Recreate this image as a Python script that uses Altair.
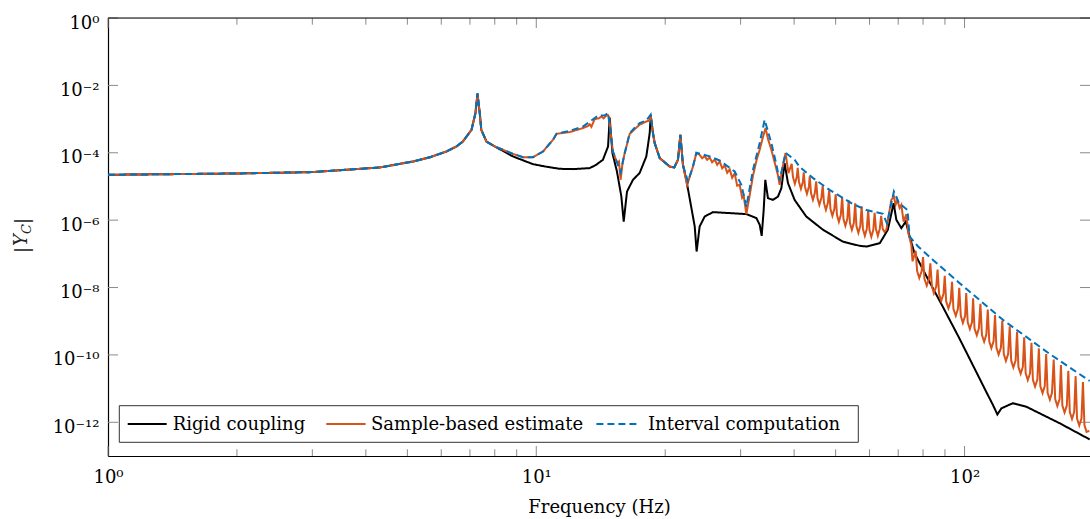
import altair as alt
import pandas as pd

SERIES = ["Rigid coupling", "Sample-based estimate", "Interval computation"]
COLORS = ["#000000", "#D95319", "#0072BD"]

# ---------------- Rigid coupling ----------------
rigid_f = [1.0, 2.0, 3.0, 4.31, 5.15, 5.65, 6.17, 6.51, 6.74, 7.06, 7.21, 7.29, 7.38, 7.44, 7.65, 8.0,
           8.82, 9.82, 10.5, 11.34, 12.18, 13.33, 13.8, 14.31, 14.71, 14.84, 15.06, 15.43, 15.8, 16.0,
           16.29, 16.82, 17.43, 18.07, 18.4, 18.5, 18.73, 18.9, 19.42, 20.49, 21.0, 21.42, 21.7, 22.0,
           22.4, 23.0, 23.44, 23.68, 24.07, 24.73, 25.85, 28.28, 30.94, 32.66, 33.24, 33.6, 33.96, 34.26,
           34.75, 35.69, 36.67, 37.35, 38.0, 38.7, 40.1, 42.7, 46.7, 52.0, 56.9, 59.0, 63.4, 66.2, 68.3,
           69.3, 71.2, 72.9, 74.4, 76.4, 81.4, 89.0, 97.4, 106.5, 112.4, 116.5, 119.3, 121.9, 129.7,
           139.4, 166.7, 196.0]
rigid_y = [2.22e-5, 2.43e-5, 2.67e-5, 3.66e-5, 5.5e-5, 7.4e-5, 1.09e-4, 1.54e-4, 2.16e-4, 4.8e-4, 1.5e-3,
           5.6e-3, 1.5e-3, 4.8e-4, 2.16e-4, 1.54e-4,
           7.8e-5, 4.6e-5, 3.9e-5, 3.34e-5, 3.27e-5, 3.5e-5, 4.4e-5, 6.2e-5, 1.54e-4, 1.1e-3, 9.8e-5,
           2.78e-5, 5.0e-6, 9.1e-7,
           7.1e-6, 1.58e-5, 2.5e-5, 7.8e-5, 3.8e-4, 1.3e-3, 3.8e-4, 1.94e-4, 6.95e-5, 3.9e-5, 3.66e-5,
           6.2e-5, 3.4e-4, 4.4e-5,
           1.58e-5, 2.5e-6, 6.5e-7, 1.17e-7, 6.5e-7, 1.28e-6, 1.73e-6, 1.62e-6, 1.51e-6, 1.15e-6, 7.3e-7,
           3.4e-7, 2.0e-6, 1.58e-5,
           4.5e-6, 4.0e-6, 5.0e-6, 8.9e-6, 4.9e-5, 1.26e-5, 4.0e-6, 1.28e-6, 5.2e-7, 2.3e-7, 1.73e-7,
           1.65e-7, 2.07e-7, 5.2e-7, 3.2e-6,
           1.02e-6, 5.8e-7, 9.1e-7, 3.3e-7, 1.05e-7, 2.22e-8, 2.67e-9, 2.99e-10, 3.13e-11, 7.96e-12,
           3.27e-12, 1.71e-12, 2.6e-12, 3.7e-12,
           2.9e-12, 9.4e-13, 3.1e-13]

# ---------------- Interval computation ----------------
interval_f = [1.0, 2.0, 3.0, 4.31, 5.15, 5.65, 6.17, 6.51, 6.74, 7.06, 7.21, 7.29, 7.38, 7.44, 7.65, 8.0,
              8.82, 9.31, 9.82, 10.37, 10.94, 11.15, 11.97, 12.85, 13.93, 14.44, 14.71, 14.92, 15.1,
              15.35, 15.74, 16.09, 16.52, 16.97, 17.43, 18.07, 18.5, 18.73, 18.9, 19.42, 20.49, 21.0,
              21.42, 21.7, 22.0, 22.6, 23.22, 23.65, 25.4, 26.8, 29.06, 30.12, 30.94, 32.06, 33.24,
              34.14, 35.39, 36.3, 37.0, 38.2, 40.1, 41.2, 44.3, 48.4, 54.9, 59.0, 64.5, 65.9, 68.4,
              70.3, 73.6, 74.4, 77.9, 84.4, 97.4, 122.9, 158.0, 196.0]
interval_y = [2.22e-5, 2.43e-5, 2.67e-5, 3.66e-5, 5.5e-5, 7.4e-5, 1.09e-4, 1.54e-4, 2.16e-4, 4.8e-4,
              1.5e-3, 5.9e-3, 1.5e-3, 4.8e-4, 2.16e-4, 1.54e-4,
              9.3e-5, 7.4e-5, 7.4e-5, 1.09e-4, 2.43e-4, 3.66e-4, 4.5e-4, 6.0e-4, 1.25e-3, 1.3e-3,
              1.5e-3, 3.8e-4, 1.09e-4,
              6.2e-5, 2.6e-5, 9.8e-5, 3.8e-4, 5.5e-4, 7.6e-4, 9.1e-4, 1.36e-3, 3.8e-4, 1.94e-4,
              6.95e-5, 3.9e-5, 3.66e-5,
              6.2e-5, 3.4e-4, 4.4e-5, 1.4e-5, 3.9e-5, 1.0e-4, 7.8e-5, 5.9e-5, 2.78e-5, 1.12e-5,
              2.5e-6, 3.1e-5, 1.94e-4,
              9.5e-4, 1.94e-4, 4.9e-5, 1.5e-5, 1.0e-4, 6.2e-5, 3.8e-5, 1.77e-5, 7.9e-6, 3.0e-6,
              2.0e-6, 1.54e-6, 8.0e-7, 7.1e-6,
              3.2e-6, 2.0e-6, 3.3e-7, 1.65e-7, 6.6e-8, 1.35e-8, 1.1e-9, 1.07e-10, 1.69e-11]

# ---------------- Sample-based estimate ----------------
sample_f_low = [1.0, 2.0, 3.0, 4.31, 5.15, 5.65, 6.17, 6.51, 6.74, 7.06, 7.21, 7.29, 7.38, 7.44, 7.65, 8.0]
sample_y_low = [2.22e-5, 2.43e-5, 2.67e-5, 3.66e-5, 5.5e-5, 7.4e-5, 1.09e-4, 1.54e-4, 2.16e-4, 4.8e-4,
                1.5e-3, 5.6e-3, 1.5e-3, 4.8e-4, 2.16e-4, 1.54e-4]

sample_f_mid = [8.82, 9.31, 9.82, 10.37, 10.94, 11.15, 11.97, 12.85, 13.2, 13.33, 13.45, 13.69, 14.0,
                14.2, 14.35, 14.55, 14.71, 14.8, 14.92, 15.1, 15.35, 15.5, 15.6, 15.74, 15.9, 16.09,
                16.52, 16.97, 17.43, 18.07, 18.35, 18.5, 18.73, 18.9, 19.42, 20.49, 21.0, 21.42, 21.7,
                22.0, 22.5, 23.22, 23.65,
                24.07, 24.40, 24.73, 25.06, 25.40, 25.74, 26.10, 26.45, 26.81, 27.17, 27.54, 27.91,
                28.29, 28.67, 29.06, 29.45, 29.85, 30.25, 30.5, 30.94, 31.6, 32.06, 32.7, 33.24, 33.7,
                34.3, 34.8, 35.39, 35.8, 36.3, 36.7, 37.0, 37.5, 38.2, 38.8]
sample_y_mid = [9.3e-5, 7.4e-5, 7.4e-5, 1.09e-4, 2.43e-4, 3.66e-4, 4.1e-4, 5.4e-4, 6.2e-4, 7.0e-4,
                5.9e-4, 1.0e-3, 1.05e-3, 1.2e-3, 1.05e-3, 1.25e-3, 1.3e-3, 1.1e-3, 3.8e-4, 1.09e-4,
                6.2e-5, 5.0e-5, 5.5e-5, 1.58e-5, 5.0e-5, 9.8e-5, 3.6e-4, 5.0e-4, 6.8e-4, 8.5e-4,
                9.0e-4, 1.25e-3, 3.8e-4, 1.94e-4, 6.95e-5, 3.9e-5, 3.66e-5, 6.2e-5, 3.4e-4, 4.4e-5,
                1.1e-5, 3.9e-5, 9.8e-5,
                8.7e-5, 6.86e-5, 7.97e-5, 6.19e-5, 7.24e-5, 5.21e-5, 6.31e-5, 4.4e-5, 5.51e-5,
                3.46e-5, 4.25e-5, 2.54e-5, 3.23e-5, 1.81e-5, 2.46e-5, 1.05e-5, 1.12e-5, 4.6e-6,
                5.3e-6, 1.51e-6, 6.9e-6, 2.07e-5, 6.2e-5, 1.23e-4, 2.43e-4, 5.4e-4, 2.43e-4,
                1.23e-4, 7.0e-5, 3.57e-5, 2.07e-5, 1.12e-5, 3.17e-5, 9.8e-5, 2.5e-5]

sample_f_teeth_a = [39.48, 39.75, 40.16, 40.58, 40.78, 41.06, 41.49, 41.92, 42.12, 42.41, 42.85, 43.30,
                    43.50, 43.80, 44.25, 44.71, 45.04, 45.35, 45.82, 46.30, 46.65, 46.97, 47.46, 47.95,
                    48.30, 48.63, 49.14, 49.65, 50.01, 50.36, 50.88, 51.41, 51.79, 52.15, 52.69, 53.24,
                    53.63, 54.00, 54.56, 55.13, 55.54, 55.92, 56.50, 57.09, 57.51, 57.91, 58.51, 59.12,
                    59.56, 59.97, 60.59, 61.22, 61.67, 62.10, 62.74, 63.39, 63.86, 64.4, 65.0, 65.67,
                    67.46, 68.41, 69.03, 69.67, 70.54, 71.18, 72.07, 73.12, 73.92, 75.12, 75.6]
sample_y_teeth_a = [4.71e-5, 1.92e-5, 1.20e-5, 1.92e-5, 3.58e-5, 1.36e-5, 8.5e-6, 1.36e-5,
                    2.63e-5, 9.7e-6, 6.05e-6, 9.7e-6, 2.00e-5, 6.4e-6, 4.0e-6, 6.4e-6,
                    1.42e-5, 4.56e-6, 2.85e-6, 4.56e-6, 1.05e-5, 3.23e-6, 2.02e-6, 3.23e-6,
                    7.69e-6, 2.14e-6, 1.34e-6, 2.14e-6, 5.85e-6, 1.43e-6, 8.9e-7, 1.43e-6,
                    4.76e-6, 1.08e-6, 6.8e-7, 1.08e-6, 3.88e-6, 8.2e-7, 5.15e-7, 8.2e-7,
                    3.16e-6, 6.7e-7, 4.2e-7, 6.7e-7, 2.57e-6, 5.5e-7, 3.42e-7, 5.5e-7,
                    2.02e-6, 5.1e-7, 3.2e-7, 5.1e-7, 1.65e-6, 5.5e-7, 3.42e-7, 5.5e-7,
                    1.34e-6, 5.5e-7, 4.5e-7, 5.15e-7,
                    4.0e-6, 5.0e-6, 2.85e-6, 4.0e-6, 2.3e-6, 2.85e-6, 9.0e-7, 1.5e-6, 4.1e-7, 1.85e-7, 6e-8]

sample_f_teeth_b = [76.9, 77.5, 78.4, 79.4, 80.0, 80.6, 81.6, 82.6, 83.2, 83.9, 84.8, 85.9,
                    86.5, 87.2, 88.2, 89.3, 89.9, 90.6, 91.7, 92.8, 93.5, 94.2, 95.4, 96.5,
                    97.2, 98.0, 99.1, 100.3, 100.9, 101.7, 102.9, 104.1, 104.7, 105.5, 106.8, 108.0,
                    108.9, 109.8, 111.1, 112.4, 113.3, 114.2, 115.5, 116.9, 117.8, 118.7, 120.1, 121.6,
                    122.5, 123.5, 124.9, 126.4, 127.5, 128.5, 130.0, 131.6, 132.6, 133.6, 135.2, 136.8,
                    137.8, 138.9, 140.5, 142.2, 143.3, 144.4, 146.1, 147.9, 149.1, 150.3, 152.1, 153.9,
                    155.1, 156.3, 158.2, 160.0, 161.5, 162.8, 164.7, 166.7, 167.9, 169.2, 171.2, 173.3,
                    174.7, 176.1, 178.2, 180.3, 181.7, 183.1, 185.3, 187.5, 189.0, 190.5, 192.7, 195.5]
sample_y_teeth_b = [1.23e-7, 3.07e-8, 1.92e-8, 3.07e-8, 7.98e-8, 1.82e-8, 1.14e-8, 1.82e-8,
                    5.22e-8, 1.09e-8, 6.8e-9, 1.09e-8, 3.42e-8, 6.46e-9, 4.04e-9, 6.46e-9,
                    2.24e-8, 3.87e-9, 2.42e-9, 3.87e-9, 1.47e-8, 2.32e-9, 1.45e-9, 2.32e-9,
                    9.8e-9, 1.44e-9, 8.97e-10, 1.44e-9, 6.85e-9, 9.4e-10, 5.9e-10, 9.4e-10,
                    4.76e-9, 6.1e-10, 3.84e-10, 6.1e-10, 3.27e-9, 3.95e-10, 2.47e-10, 3.95e-10,
                    2.21e-9, 2.54e-10, 1.59e-10, 2.54e-10, 1.52e-9, 1.65e-10, 1.03e-10, 1.65e-10,
                    1.04e-9, 1.06e-10, 6.64e-11, 1.06e-10, 7.1e-10, 6.8e-11, 4.26e-11, 6.8e-11,
                    4.88e-10, 4.4e-11, 2.75e-11, 4.4e-11, 3.36e-10, 2.86e-11, 1.79e-11, 2.86e-11,
                    2.29e-10, 1.84e-11, 1.15e-11, 1.84e-11, 1.56e-10, 1.18e-11, 7.35e-12, 1.18e-11,
                    1.06e-10, 7.5e-12, 4.71e-12, 7.5e-12, 7.25e-11, 4.9e-12, 3.04e-12, 4.9e-12,
                    4.98e-11, 3.14e-12, 1.96e-12, 3.14e-12, 3.4e-11, 2.02e-12, 1.26e-12, 2.02e-12,
                    2.31e-11, 1.29e-12, 8.06e-13, 1.29e-12, 1.58e-11, 8.3e-13, 5.2e-13, 5.6e-13]

# ---------------- axis ticks ----------------
x_major = [1, 10, 100]
x_minor = [2, 3, 4, 5, 6, 7, 8, 9, 20, 30, 40, 50, 60, 70, 80, 90]
y_major = [1e0, 1e-2, 1e-4, 1e-6, 1e-8, 1e-10, 1e-12]

W, H = 982, 438
FONT = "DejaVu Serif"


def frame(f, y, name):
    assert len(f) == len(y), name
    return pd.DataFrame({"f": f, "y": y, "series": name})


rigid = frame(rigid_f, rigid_y, SERIES[0])
sample = pd.concat([
    frame(sample_f_low, sample_y_low, SERIES[1]),
    frame(sample_f_mid, sample_y_mid, SERIES[1]),
    frame(sample_f_teeth_a, sample_y_teeth_a, SERIES[1]),
    frame(sample_f_teeth_b, sample_y_teeth_b, SERIES[1]),
], ignore_index=True)
interval = frame(interval_f, interval_y, SERIES[2])

x_scale = alt.Scale(type="log", domain=[1, 196.3], nice=False)
y_scale = alt.Scale(type="log", domain=[1e-13, 1], nice=False)

x_axis = alt.Axis(
    values=x_major, ticks=False, grid=False, domain=True, domainColor="black", domainWidth=1.2,
    labelExpr="datum.value == 1 ? '10⁰' : (datum.value == 10 ? '10¹' : '10²')",
    labelFont=FONT, labelFontSize=18, labelColor="black", labelBaseline="alphabetic",
    labelPadding=26, labelFlush=False,
    title="Frequency (Hz)", titleFont=FONT, titleFontSize=18, titleFontWeight="normal",
    titleColor="black", titleBaseline="alphabetic", titleY=56,
)
y_axis = alt.Axis(
    values=y_major, ticks=False, grid=False, domain=True, domainColor="black", domainWidth=1.2,
    labelExpr="['10⁻¹²','','10⁻¹⁰','','10⁻⁸','','10⁻⁶','','10⁻⁴','','10⁻²','','10⁰'][round(log(datum.value)/LN10)+12]",
    labelFont=FONT, labelFontSize=18, labelColor="black", labelBaseline="alphabetic",
    labelPadding=9, labelOffset=10, labelFlush=False, title=None,
)

color = alt.Color("series:N", scale=alt.Scale(domain=SERIES, range=COLORS), legend=None)
dash = alt.StrokeDash("series:N", scale=alt.Scale(domain=SERIES, range=[[1, 0], [1, 0], [7, 4]]),
                      legend=None)


def line(df):
    return alt.Chart(df).mark_line(strokeWidth=2.0, clip=True).encode(
        x=alt.X("f:Q", scale=x_scale, axis=x_axis),
        y=alt.Y("y:Q", scale=y_scale, axis=y_axis),
        color=color, strokeDash=dash,
    )


TICK = "#8a8a8a"


def xticks(vals, length):
    d = pd.DataFrame({"f": vals})
    bottom = alt.Chart(d).mark_rule(color=TICK, strokeWidth=1).encode(
        x=alt.X("f:Q", scale=x_scale, axis=x_axis), y=alt.value(H), y2=alt.value(H - length))
    top = alt.Chart(d).mark_rule(color=TICK, strokeWidth=1).encode(
        x=alt.X("f:Q", scale=x_scale, axis=x_axis), y=alt.value(0), y2=alt.value(length))
    return [bottom, top]


yd = pd.DataFrame({"y": y_major})
yt_left = alt.Chart(yd).mark_rule(color=TICK, strokeWidth=1).encode(
    y=alt.Y("y:Q", scale=y_scale, axis=y_axis), x=alt.value(0), x2=alt.value(10))
yt_right = alt.Chart(yd).mark_rule(color=TICK, strokeWidth=1).encode(
    y=alt.Y("y:Q", scale=y_scale, axis=y_axis), x=alt.value(W), x2=alt.value(W - 10))

one = pd.DataFrame({"a": [0]})
top_border = alt.Chart(one).mark_rule(color="black", strokeWidth=1.2).encode(
    x=alt.value(0), x2=alt.value(W), y=alt.value(0))


def ytitle_piece(txt, xo, yo, size, italic):
    return alt.Chart(one).mark_text(
        text=txt, angle=270, font=FONT, fontSize=size, fontStyle="italic" if italic else "normal",
        align="center", baseline="middle", color="#222222").encode(x=alt.value(xo), y=alt.value(yo))


ytitle = [
    ytitle_piece("|", -86, 232, 19, False),
    ytitle_piece("Y", -86, 222, 18, True),
    ytitle_piece("C", -81, 211, 13, True),
    ytitle_piece("|", -86, 203, 19, False),
]

# ---------------- legend (box, line samples, labels) ----------------
LEG_Y = 406
legend_box = alt.Chart(one).mark_rect(fill="white", stroke="#333333", strokeWidth=1).encode(
    x=alt.value(11.3), x2=alt.value(750.3), y=alt.value(387.7), y2=alt.value(424.3))
leg_sym_x = [(19.7, 58.7), (218.3, 257.6), (488.4, 530)]
leg_txt_x = [64.7, 263, 540]
legend_layers = [legend_box]
for name, col, (xa, xb), xt, dsh in zip(SERIES, COLORS, leg_sym_x, leg_txt_x, [[1, 0], [1, 0], [7, 4]]):
    legend_layers.append(alt.Chart(one).mark_rule(color=col, strokeWidth=2, strokeDash=dsh).encode(
        x=alt.value(xa), x2=alt.value(xb), y=alt.value(LEG_Y)))
    legend_layers.append(alt.Chart(one).mark_text(
        text=name, font=FONT, fontSize=18, align="left", baseline="middle", color="black").encode(
        x=alt.value(xt), y=alt.value(LEG_Y + 0.5)))

layers = xticks(x_major, 10) + xticks(x_minor, 6.7) + [yt_left, yt_right, top_border,
          line(rigid), line(sample), line(interval)] + ytitle + legend_layers

chart = alt.layer(*layers).properties(
    width=W, height=H,
    padding={"left": 108, "top": 18, "right": 0, "bottom": 63},
    autosize=alt.AutoSizeParams(type="none"),
).configure_view(stroke=None).configure(background="white")

chart.save("out.html", embed_options={"renderer": "svg", "actions": False})
